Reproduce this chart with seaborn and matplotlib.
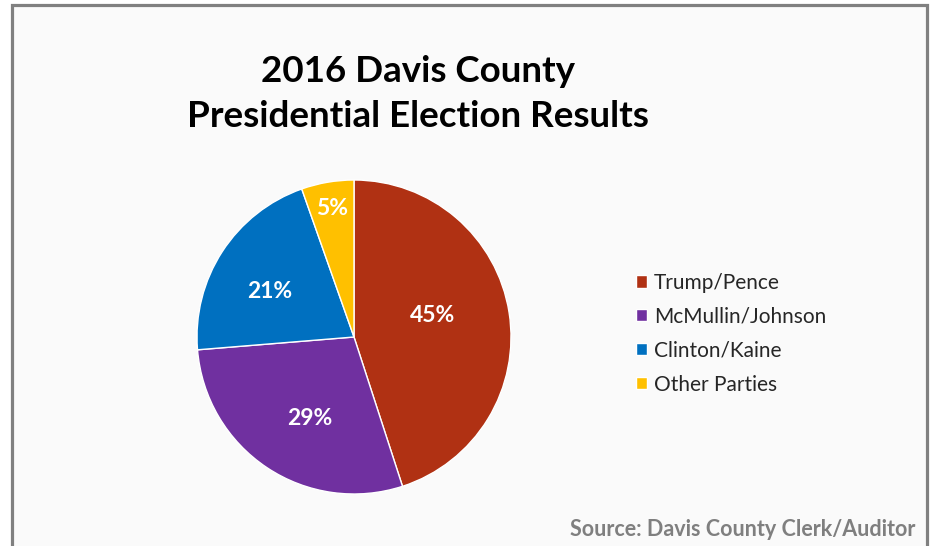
import numpy as np
import seaborn as sns
import matplotlib
matplotlib.use("Agg")
import matplotlib.pyplot as plt
from matplotlib.patches import Rectangle

# -------------------- Data --------------------
candidates = ["Trump/Pence", "McMullin/Johnson", "Clinton/Kaine", "Other Parties"]
vote_share = [45.0, 28.7, 20.9, 5.4]
slice_colors = ["#B03113", "#7030A0", "#0070C0", "#FFC000"]
title_text = "2016 Davis County\nPresidential Election Results"
source_text = "Source: Davis County Clerk/Auditor"

sns.set_theme(style="white")
plt.rcParams["font.family"] = ["Lato", "DejaVu Sans"]

W, H = 932, 546
fig = plt.figure(figsize=(W / 100, H / 100), dpi=100, facecolor="white")

# outer frame (gray border, light fill)
frame = Rectangle((11.5 / W, -0.05), (927 - 11.5) / W, (H - 5.5) / H + 0.05,
                  transform=fig.transFigure, facecolor="#FAFAFA",
                  edgecolor="#808080", lw=2.3, zorder=0)
fig.add_artist(frame)

# -------------------- Pie --------------------
cx, cy, r = 354, 337, 157
ax = fig.add_axes([(cx - r) / W, (H - cy - r) / H, 2 * r / W, 2 * r / H])
ax.set_facecolor("none")
wedges, texts, autotexts = ax.pie(
    vote_share, colors=slice_colors, startangle=90, counterclock=False,
    autopct="%.0f%%", pctdistance=0.6,
    wedgeprops=dict(edgecolor="white", linewidth=1.0),
    textprops=dict(color="white", fontsize=16.5, fontweight="bold"),
)
ax.set_xlim(-1, 1)
ax.set_ylim(-1, 1)

# Excel "best fit" label spots: radius factor + small angle nudge per slice
label_dist = [0.52, 0.59, 0.61, 0.83]
label_nudge = [6.5, 5.0, 4.8, 0.0]
for w, t, d, n in zip(wedges, autotexts, label_dist, label_nudge):
    ang = np.deg2rad((w.theta1 + w.theta2) / 2 + n)
    t.set_position((d * np.cos(ang), d * np.sin(ang)))

# -------------------- Title / legend / source --------------------
fig.text(418 / W, 1 - 94 / H, title_text, ha="center", va="center",
         fontsize=26.5, fontweight="bold", color="black", linespacing=1.48)

fig.legend(wedges, candidates, loc="upper left",
           bbox_to_anchor=(617 / W, 1 - 254 / H), frameon=False,
           fontsize=15, handlelength=0.53, handleheight=0.53,
           handletextpad=0.34, labelspacing=0.67, labelcolor="#262626")

fig.text(915 / W, 1 - 530 / H, source_text, ha="right", va="center",
         fontsize=15.5, fontweight="bold", color="#7F7F7F")

fig.savefig("out.png", dpi=100, facecolor="white")
